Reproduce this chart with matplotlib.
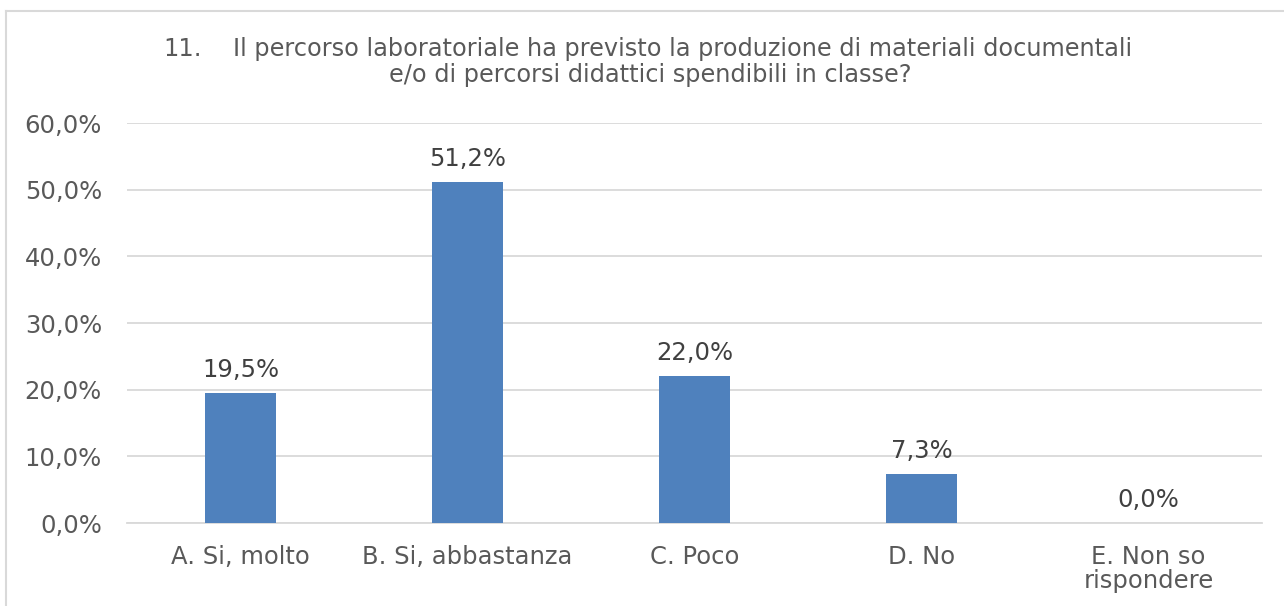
import matplotlib.pyplot as plt
from matplotlib.lines import Line2D

categories = ['A. Si, molto', 'B. Si, abbastanza', 'C. Poco', 'D. No', 'E. Non so\nrispondere']
values = [19.5, 51.2, 22.0, 7.3, 0.0]
yticks = [0, 10, 20, 30, 40, 50, 60]

W, H = 1284, 606
fig = plt.figure(figsize=(W / 100, H / 100), dpi=100)
plt.rcParams['font.family'] = ['DejaVu Sans']
fs = 17.5

# chart frame (only top and left edges are inside the image)
frame = '#d9d9d9'
fig.add_artist(Line2D([6 / W, 1], [1 - 11 / H, 1 - 11 / H], color=frame, lw=1.5, transform=fig.transFigure))
fig.add_artist(Line2D([6 / W, 6 / W], [0, 1 - 11 / H], color=frame, lw=1.5, transform=fig.transFigure))

ax = fig.add_axes([127 / W, 83 / H, (1262 - 127) / W, 400 / H])
x = range(len(categories))
ax.bar(x, values, width=0.317, color='#4f81bd', zorder=3)

for i, v in zip(x, values):
    ax.text(i, v + 2.4, f'{v:.1f}%'.replace('.', ','), ha='center', va='baseline',
            fontsize=fs, color='#404040')

ax.set_xlim(-0.5, len(categories) - 0.5)
ax.set_ylim(0, 60)
ax.set_yticks(yticks)
ax.set_yticklabels([f'{t:.1f}%'.replace('.', ',') for t in yticks])
ax.set_xticks(list(x))
ax.set_xticklabels(categories)
for lab in ax.get_xticklabels():
    lab.set_linespacing(1.0)
ax.tick_params(axis='both', length=0, labelsize=fs, labelcolor='#595959')
ax.tick_params(axis='y', pad=18)
ax.tick_params(axis='x', pad=15.5)
ax.grid(axis='y', color='#d9d9d9', lw=1.3, zorder=0)
for s in ['top', 'right', 'left']:
    ax.spines[s].set_visible(False)
ax.spines['bottom'].set_color('#d9d9d9')
ax.spines['bottom'].set_linewidth(1.3)

# two-line chart title
tcol = '#595959'
tfs = 17.3
fig.text(163 / W, 1 - 56 / H, '11.', ha='left', va='baseline', fontsize=tfs, color=tcol)
fig.text(233 / W, 1 - 56 / H,
         'Il percorso laboratoriale ha previsto la produzione di materiali documentali',
         ha='left', va='baseline', fontsize=tfs, color=tcol)
fig.text(650 / W, 1 - 82 / H, 'e/o di percorsi didattici spendibili in classe?',
         ha='center', va='baseline', fontsize=tfs, color=tcol)

fig.savefig('out.png', dpi=100, facecolor='white')
